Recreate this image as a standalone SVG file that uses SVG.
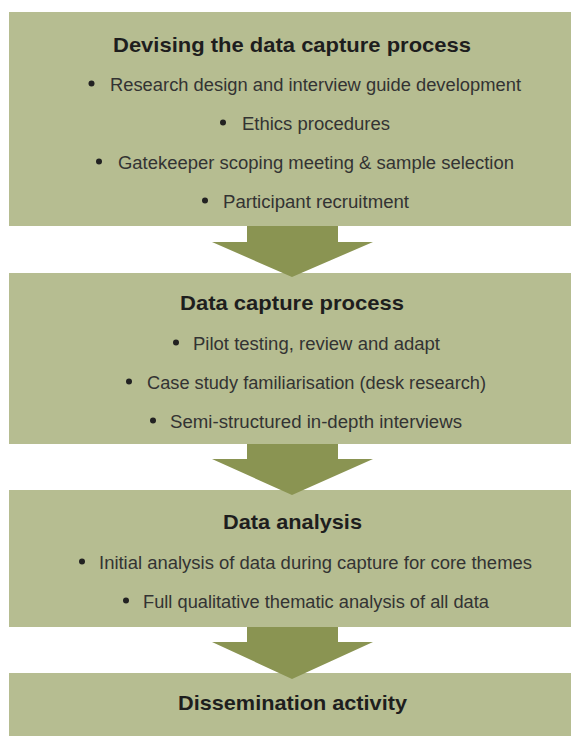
<svg xmlns="http://www.w3.org/2000/svg" width="571" height="736" viewBox="0 0 571 736">
<style>
.box{fill:#b6bd91}
.arr{fill:#8a9452}
.t{font-family:"Liberation Sans",Arial,sans-serif;font-weight:bold;font-size:21px;fill:#1e1e1e}
.b{font-family:"Liberation Sans",Arial,sans-serif;font-size:17.5px;fill:#333333}
.d{fill:#222222}
</style>
<rect width="571" height="736" fill="#ffffff"/>
<g id="node1">
<rect class="box" x="9" y="12" width="562" height="214"/>
<text class="t" x="113" y="52" textLength="358" lengthAdjust="spacingAndGlyphs">Devising the data capture process</text>
<circle class="d" cx="91.5" cy="83.5" r="3"/><text class="b" x="110" y="91" textLength="411" lengthAdjust="spacingAndGlyphs">Research design and interview guide development</text>
<circle class="d" cx="223" cy="122.5" r="3"/><text class="b" x="242" y="130" textLength="148" lengthAdjust="spacingAndGlyphs">Ethics procedures</text>
<circle class="d" cx="99" cy="161.5" r="3"/><text class="b" x="118" y="169" textLength="396" lengthAdjust="spacingAndGlyphs">Gatekeeper scoping meeting &amp; sample selection</text>
<circle class="d" cx="205" cy="200.5" r="3"/><text class="b" x="223" y="208" textLength="186" lengthAdjust="spacingAndGlyphs">Participant recruitment</text>
</g>
<g id="node2">
<rect class="box" x="9" y="273" width="562" height="171"/>
<text class="t" x="180" y="310" textLength="224" lengthAdjust="spacingAndGlyphs">Data capture process</text>
<circle class="d" cx="176" cy="342.5" r="3"/><text class="b" x="193" y="350" textLength="247" lengthAdjust="spacingAndGlyphs">Pilot testing, review and adapt</text>
<circle class="d" cx="129" cy="381.5" r="3"/><text class="b" x="147" y="389" textLength="339" lengthAdjust="spacingAndGlyphs">Case study familiarisation (desk research)</text>
<circle class="d" cx="153" cy="420.5" r="3"/><text class="b" x="170" y="428" textLength="292" lengthAdjust="spacingAndGlyphs">Semi-structured in-depth interviews</text>
</g>
<g id="node3">
<rect class="box" x="9" y="490" width="562" height="137"/>
<text class="t" x="223" y="529" textLength="139" lengthAdjust="spacingAndGlyphs">Data analysis</text>
<circle class="d" cx="82" cy="561.5" r="3"/><text class="b" x="99" y="569" textLength="433" lengthAdjust="spacingAndGlyphs">Initial analysis of data during capture for core themes</text>
<circle class="d" cx="126" cy="600.5" r="3"/><text class="b" x="143" y="608" textLength="346" lengthAdjust="spacingAndGlyphs">Full qualitative thematic analysis of all data</text>
</g>
<g id="node4">
<rect class="box" x="9" y="673" width="562" height="63"/>
<text class="t" x="178" y="710" textLength="229" lengthAdjust="spacingAndGlyphs">Dissemination activity</text>
</g>
<g id="connectors">
<polygon class="arr" points="247,226 338,226 338,242 373,242 292,277 212,242 247,242"/>
<polygon class="arr" points="247,444 338,444 338,459 373,459 292,495 212,459 247,459"/>
<polygon class="arr" points="247,627 338,627 338,642 373,642 292,679 212,642 247,642"/>
</g>
</svg>
